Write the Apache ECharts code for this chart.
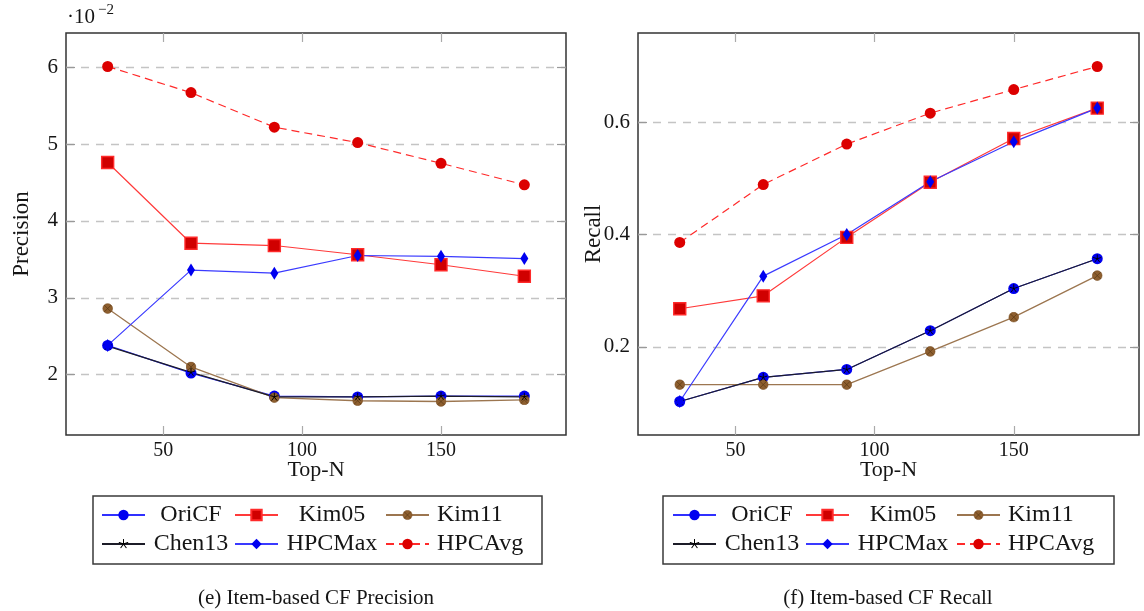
<!DOCTYPE html>
<html>
<head>
<meta charset="utf-8">
<script src="https://cdn.jsdelivr.net/npm/echarts@6/dist/echarts.min.js"></script>
<style>
  html, body { margin: 0; padding: 0; background: #fff; }
  #chart { width: 1144px; height: 611px; }
</style>
</head>
<body>
<div id="chart"></div>
<script>
// Top-N list sizes (x values shared by both panels)
const topN = [30, 60, 90, 120, 150, 180];
const methods = ['OriCF', 'Kim05', 'Kim11', 'Chen13', 'HPCMax', 'HPCAvg'];

// Item-based CF precision, in units of 10^-2
const precOriCF  = [2.38, 2.02, 1.72, 1.71, 1.72, 1.72];
const precKim05  = [4.76, 3.71, 3.68, 3.56, 3.43, 3.28];
const precKim11  = [2.86, 2.10, 1.70, 1.66, 1.65, 1.67];
const precChen13 = [2.37, 2.03, 1.71, 1.71, 1.72, 1.71];
const precHPCMax = [2.38, 3.36, 3.32, 3.55, 3.54, 3.51];
const precHPCAvg = [6.01, 5.67, 5.22, 5.02, 4.75, 4.47];

// Item-based CF recall
const recOriCF  = [0.103, 0.146, 0.160, 0.229, 0.304, 0.357];
const recKim05  = [0.268, 0.291, 0.395, 0.493, 0.571, 0.625];
const recKim11  = [0.133, 0.133, 0.133, 0.192, 0.253, 0.327];
const recChen13 = [0.103, 0.146, 0.160, 0.229, 0.304, 0.357];
const recHPCMax = [0.103, 0.326, 0.400, 0.494, 0.565, 0.625];
const recHPCAvg = [0.386, 0.489, 0.561, 0.616, 0.658, 0.699];

// Tick labels
const xTickValues = [50, 100, 150];
const precTickValues = [2, 3, 4, 5, 6];
const recTickValues = [0.2, 0.4, 0.6];

const precData = [precOriCF, precKim05, precKim11, precChen13, precHPCMax, precHPCAvg];
const recData  = [recOriCF, recKim05, recKim11, recChen13, recHPCMax, recHPCAvg];

const FONT = "'Liberation Serif', 'DejaVu Serif', serif";
const TXT = '#151515';

// axis limits padded by 10% of the data span on each side
function padded(values) {
  const lo = Math.min(...values), hi = Math.max(...values);
  const d = (hi - lo) * 0.1;
  return [lo - d, hi + d];
}
const xLim = padded(topN);
const precLim = padded(precData.flat());
const recLim = padded(recData.flat());

function svgSymbol(svg) {
  return 'image://data:image/svg+xml;charset=utf-8,' + encodeURIComponent(svg);
}
const otimesSym = svgSymbol(
  "<svg xmlns='http://www.w3.org/2000/svg' width='24' height='24' viewBox='0 0 24 24'>" +
  "<circle cx='12' cy='12' r='10.6' fill='#8e5f2f' stroke='#7a4e22' stroke-width='1.4'/>" +
  "<path d='M4.6 4.6L19.4 19.4M19.4 4.6L4.6 19.4' stroke='#5a3914' stroke-width='1.6'/></svg>");
const starSym = svgSymbol(
  "<svg xmlns='http://www.w3.org/2000/svg' width='24' height='24' viewBox='0 0 24 24'>" +
  "<path d='M12 12L12 1.5M12 12L2 8.8M12 12L5.8 20.5M12 12L18.2 20.5M12 12L22 8.8' " +
  "stroke='#000' stroke-width='2.4' stroke-linecap='round'/></svg>");

const styles = {
  OriCF:  { symbol: 'circle', symbolSize: 11, itemStyle: { color: '#0000f0' },
            lineStyle: { color: '#3030ff', width: 1.2 } },
  Kim05:  { symbol: 'rect', symbolSize: 12, itemStyle: { color: '#d00000', borderColor: '#ff2a2a', borderWidth: 1.4 },
            lineStyle: { color: '#ff3a3a', width: 1.2 } },
  Kim11:  { symbol: otimesSym, symbolSize: 11, itemStyle: { color: '#8e5f2f' },
            lineStyle: { color: '#9c7650', width: 1.3 } },
  Chen13: { symbol: starSym, symbolSize: 9, itemStyle: { color: '#111' },
            lineStyle: { color: '#1c1c28', width: 1.2 } },
  HPCMax: { symbol: 'diamond', symbolSize: [8, 13], itemStyle: { color: '#0000f0' },
            lineStyle: { color: '#3a3aff', width: 1.2 } },
  HPCAvg: { symbol: 'circle', symbolSize: 11, itemStyle: { color: '#dc0000' },
            lineStyle: { color: '#ff2a2a', width: 1.2, type: [8, 5] } }
};

function buildSeries(dataSets, axisIdx) {
  return methods.map((name, k) => Object.assign({
    name, type: 'line',
    xAxisIndex: axisIdx, yAxisIndex: axisIdx,
    data: topN.map((x, i) => [x, dataSets[k][i]]),
    showAllSymbol: true, animation: false,
    emphasis: { disabled: true }
  }, styles[name]));
}

const grids = [
  { left: 66, top: 33, width: 500, height: 402 },
  { left: 638, top: 33, width: 501, height: 402 }
];

function xAxes(gridIndex) {
  const base = { type: 'value', gridIndex, min: xLim[0], max: xLim[1], minInterval: 50, maxInterval: 50,
                 splitLine: { show: false }, axisLine: { show: false } };
  return [
    Object.assign({}, base, {
      position: 'bottom',
      name: 'Top-N', nameLocation: 'middle', nameGap: 24, nameMoveOverlap: false,
      nameTextStyle: { fontFamily: FONT, fontSize: 22, color: TXT },
      axisTick: { inside: true, length: 9, customValues: xTickValues, lineStyle: { color: '#aaa', width: 1.2 } },
      axisLabel: { customValues: xTickValues, margin: 6, fontFamily: FONT, fontSize: 20, color: TXT }
    }),
    Object.assign({}, base, {
      position: 'top',
      axisTick: { inside: true, length: 9, customValues: xTickValues, lineStyle: { color: '#aaa', width: 1.2 } },
      axisLabel: { show: false }
    })
  ];
}

function yAxes(gridIndex, lim, step, ticks, name, fmt) {
  const base = { type: 'value', gridIndex, min: lim[0], max: lim[1], minInterval: step, maxInterval: step,
                 axisLine: { show: false } };
  return [
    Object.assign({}, base, {
      position: 'left',
      name, nameLocation: 'middle', nameGap: 33, nameMoveOverlap: false,
      nameTextStyle: { fontFamily: FONT, fontSize: 23, color: TXT },
      axisTick: { inside: true, length: 9, customValues: ticks, lineStyle: { color: '#999', width: 1.2 } },
      axisLabel: { customValues: ticks, margin: 8, fontFamily: FONT, fontSize: 21, color: TXT, formatter: fmt },
      splitLine: { show: true, lineStyle: { color: '#c4c4c4', width: 1.3, type: [8, 7] } }
    }),
    Object.assign({}, base, {
      position: 'right',
      axisTick: { inside: true, length: 9, customValues: ticks, lineStyle: { color: '#999', width: 1.2 } },
      axisLabel: { show: false },
      splitLine: { show: false }
    })
  ];
}

// one legend per column so the columns line up as in a tabular legend
function legendColumn(names, left, textWidth, align) {
  return {
    orient: 'vertical', left, top: 503, padding: 0, itemGap: 5,
    itemWidth: 43, itemHeight: 13, selectedMode: false,
    data: names,
    formatter: '{n|{name}}',
    textStyle: {
      rich: { n: { width: textWidth, align, fontFamily: FONT, fontSize: 24, color: TXT, height: 24, lineHeight: 24,
                   padding: align === 'left' ? [0, 0, 0, 3] : 0 } }
    }
  };
}
function legendSet(dx) {
  return [
    legendColumn(['OriCF', 'Chen13'], 101 + dx, 82, 'center'),
    legendColumn(['Kim05', 'HPCMax'], 234 + dx, 98, 'center'),
    legendColumn(['Kim11', 'HPCAvg'], 385 + dx, 96, 'left')
  ];
}

const chart = echarts.init(document.getElementById('chart'), null, { renderer: 'canvas' });
chart.setOption({
  backgroundColor: '#fff',
  animation: false,
  grid: grids.map(g => Object.assign({ show: true, borderColor: '#333', borderWidth: 1.5,
                                        backgroundColor: 'transparent', containLabel: false }, g)),
  xAxis: [...xAxes(0), ...xAxes(1)],
  yAxis: [
    ...yAxes(0, precLim, 1, precTickValues, 'Precision', v => String(v)),
    ...yAxes(1, recLim, 0.2, recTickValues, 'Recall', v => v.toFixed(1))
  ],
  legend: [...legendSet(0), ...legendSet(571)],
  series: [...buildSeries(precData, 0), ...buildSeries(recData, 2)],
  graphic: [
    { type: 'rect', shape: { x: 93, y: 496, width: 449, height: 68 },
      style: { fill: 'none', stroke: '#3a3a3a', lineWidth: 1.5 }, z: 10 },
    { type: 'rect', shape: { x: 663, y: 496, width: 451, height: 68 },
      style: { fill: 'none', stroke: '#3a3a3a', lineWidth: 1.5 }, z: 10 },
    { type: 'text', x: 67, y: 17, style: { text: '·10', font: '21px ' + FONT, fill: TXT, verticalAlign: 'middle' } },
    { type: 'text', x: 98, y: 10, style: { text: '−2', font: '15px ' + FONT, fill: TXT, verticalAlign: 'middle' } },
    { type: 'text', x: 316, y: 598, style: { text: '(e) Item-based CF Precision', font: '21px ' + FONT, fill: TXT,
      align: 'center', verticalAlign: 'middle' } },
    { type: 'text', x: 888, y: 598, style: { text: '(f) Item-based CF Recall', font: '21px ' + FONT, fill: TXT,
      align: 'center', verticalAlign: 'middle' } }
  ]
});
</script>
</body>
</html>
